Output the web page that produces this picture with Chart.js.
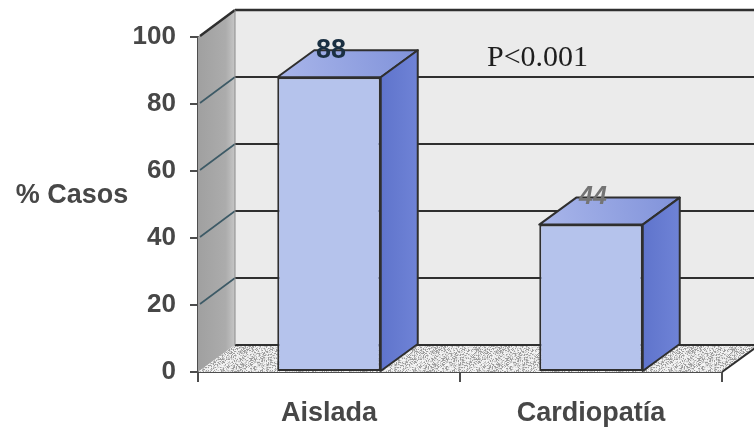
<!DOCTYPE html>
<html lang="es">
<head>
<meta charset="utf-8">
<title>% Casos</title>
<script src="https://cdn.jsdelivr.net/npm/chart.js@4.4.1/dist/chart.umd.min.js"></script>
<style>
  html, body { margin: 0; padding: 0; background: #ffffff; }
  canvas { display: block; }
</style>
</head>
<body>
<canvas id="chart" width="754" height="429"></canvas>
<script>
// ---- data ----
const categories = ['Aislada', 'Cardiopatía'];
const casesPct = [88, 44];
const yTicks = [0, 20, 40, 60, 80, 100];
const yAxisTitle = '% Casos';
const significance = 'P<0.001';

// ---- styles ----
const DEPTH_X = 37;          // 3D depth offset, horizontal
const DEPTH_Y = -27;         // 3D depth offset, vertical
const AXIS_COLOR = '#4d4d4d';
const TEXT_COLOR = '#474747';
const LINE_COLOR = '#2f2f2f';
const valueLabelStyles = [
  { color: '#1b3042', font: 'bold 27px "Liberation Sans", Arial, sans-serif' },
  { color: '#747474', font: 'italic bold 25px "Liberation Sans", Arial, sans-serif' }
];

// speckled texture used on the floor
function makeSpecklePattern(ctx) {
  const size = 64;
  const c = document.createElement('canvas');
  c.width = size; c.height = size;
  const g = c.getContext('2d');
  const img = g.createImageData(size, size);
  for (let y = 0; y < size; y++) {
    for (let x = 0; x < size; x++) {
      let h = (x * 374761393 + y * 668265263) | 0;
      h = (h ^ (h >>> 13)) * 1274126177 | 0;
      h = (h ^ (h >>> 16)) & 255;
      let v;
      if (h < 60) v = 105;
      else if (h < 110) v = 170;
      else if (h < 175) v = 220;
      else v = 248;
      const i = (y * size + x) * 4;
      img.data[i] = v; img.data[i + 1] = v; img.data[i + 2] = v; img.data[i + 3] = 255;
    }
  }
  g.putImageData(img, 0, 0);
  return ctx.createPattern(c, 'repeat');
}

function poly(ctx, pts) {
  ctx.beginPath();
  ctx.moveTo(pts[0][0], pts[0][1]);
  for (let i = 1; i < pts.length; i++) ctx.lineTo(pts[i][0], pts[i][1]);
  ctx.closePath();
}

// walls, floor and gridlines behind the bars
const chartWalls = {
  id: 'chartWalls',
  beforeDatasetsDraw(chart) {
    const { ctx, chartArea: a, scales } = chart;
    const ys = scales.y;
    const L = a.left, R = a.right;
    const y0 = ys.getPixelForValue(0);
    const yTop = ys.getPixelForValue(100);
    ctx.save();

    // back wall
    ctx.fillStyle = '#ebebeb';
    ctx.fillRect(L + DEPTH_X, yTop + DEPTH_Y, R - L + 10, y0 - yTop);

    // side wall
    const grad = ctx.createLinearGradient(L, 0, L + DEPTH_X, 0);
    grad.addColorStop(0, '#a0a0a0');
    grad.addColorStop(0.75, '#acacac');
    grad.addColorStop(1, '#c6c6c6');
    ctx.fillStyle = grad;
    poly(ctx, [[L, y0], [L, yTop], [L + DEPTH_X, yTop + DEPTH_Y], [L + DEPTH_X, y0 + DEPTH_Y]]);
    ctx.fill();

    // floor
    ctx.fillStyle = makeSpecklePattern(ctx);
    poly(ctx, [[L, y0], [R, y0], [R + DEPTH_X, y0 + DEPTH_Y], [L + DEPTH_X, y0 + DEPTH_Y]]);
    ctx.fill();
    ctx.fillStyle = 'rgba(238,238,238,0.4)';
    ctx.fill();

    // gridlines on back and side walls
    ctx.strokeStyle = LINE_COLOR;
    ctx.lineCap = 'butt';
    yTicks.forEach(v => {
      const y = ys.getPixelForValue(v);
      ctx.lineWidth = v === 100 ? 2.5 : 2;
      ctx.beginPath();
      ctx.moveTo(L + DEPTH_X, y + DEPTH_Y);
      ctx.lineTo(R + DEPTH_X + 10, y + DEPTH_Y);
      ctx.stroke();
      if (v > 0) {
        ctx.strokeStyle = v === 100 ? LINE_COLOR : '#3d5a66';
        ctx.lineWidth = v === 100 ? 2.5 : 1.6;
        ctx.beginPath();
        ctx.moveTo(L + 2, y - 1);
        ctx.lineTo(L + DEPTH_X, y + DEPTH_Y);
        ctx.stroke();
        ctx.strokeStyle = LINE_COLOR;
      }
    });
    // floor front-right edge
    ctx.lineWidth = 2;
    ctx.beginPath();
    ctx.moveTo(R, y0);
    ctx.lineTo(R + DEPTH_X, y0 + DEPTH_Y);
    ctx.stroke();
    // back corner edge
    ctx.beginPath();
    ctx.moveTo(L + DEPTH_X, yTop + DEPTH_Y);
    ctx.lineTo(L + DEPTH_X, y0 + DEPTH_Y);
    ctx.lineWidth = 1;
    ctx.strokeStyle = '#8a8a8a';
    ctx.stroke();
    ctx.restore();
  },

  // top and side faces of each bar, value labels
  afterDatasetsDraw(chart) {
    const { ctx } = chart;
    const meta = chart.getDatasetMeta(0);
    ctx.save();
    meta.data.forEach((bar, i) => {
      const { x, y, base, width } = bar.getProps(['x', 'y', 'base', 'width'], true);
      const x0 = x - width / 2, x1 = x + width / 2;

      // top face
      const tg = ctx.createLinearGradient(x0, y, x1 + DEPTH_X, y + DEPTH_Y);
      tg.addColorStop(0, '#a9b6ea');
      tg.addColorStop(1, '#8092da');
      ctx.fillStyle = tg;
      poly(ctx, [[x0, y], [x1, y], [x1 + DEPTH_X, y + DEPTH_Y], [x0 + DEPTH_X, y + DEPTH_Y]]);
      ctx.fill();
      ctx.strokeStyle = LINE_COLOR;
      ctx.lineWidth = 2;
      ctx.lineJoin = 'round';
      ctx.stroke();

      // side face
      const sg = ctx.createLinearGradient(x1, 0, x1 + DEPTH_X, 0);
      sg.addColorStop(0, '#5f74cc');
      sg.addColorStop(1, '#6f83d6');
      ctx.fillStyle = sg;
      poly(ctx, [[x1, y], [x1 + DEPTH_X, y + DEPTH_Y], [x1 + DEPTH_X, base + DEPTH_Y], [x1, base]]);
      ctx.fill();
      ctx.stroke();

      // value label on the top face
      const st = valueLabelStyles[i];
      ctx.fillStyle = st.color;
      ctx.font = st.font;
      ctx.textAlign = 'center';
      ctx.textBaseline = 'middle';
      ctx.fillText(String(casesPct[i]), x + 2, y + DEPTH_Y);
    });
    ctx.restore();
  },

  afterDraw(chart) {
    const { ctx, chartArea: a } = chart;
    ctx.save();
    ctx.fillStyle = TEXT_COLOR;
    ctx.font = 'bold 27px "Liberation Sans", Arial, sans-serif';
    ctx.textAlign = 'center';
    ctx.textBaseline = 'middle';
    ctx.fillText(yAxisTitle, 72, (a.top + a.bottom) / 2 - 9);

    ctx.fillStyle = '#1e1e1e';
    ctx.font = '30px "Liberation Serif", "Times New Roman", serif';
    ctx.textAlign = 'left';
    ctx.textBaseline = 'alphabetic';
    ctx.fillText(significance, 487, 66);
    ctx.restore();
  }
};

new Chart(document.getElementById('chart'), {
  type: 'bar',
  data: {
    labels: categories,
    datasets: [{
      data: casesPct,
      backgroundColor: '#b5c3ec',
      borderColor: LINE_COLOR,
      borderWidth: 2,
      borderSkipped: false,
      barPercentage: 0.79,
      categoryPercentage: 0.5
    }]
  },
  plugins: [chartWalls],
  options: {
    responsive: false,
    devicePixelRatio: 1,
    animation: false,
    events: [],
    layout: { padding: { left: 0, right: 32, top: 37, bottom: 0 } },
    plugins: { legend: { display: false }, tooltip: { enabled: false } },
    scales: {
      y: {
        min: 0,
        max: 100,
        afterFit(scale) { scale.width = 198; },
        afterBuildTicks(scale) { scale.ticks = yTicks.map(v => ({ value: v })); },
        ticks: {
          color: TEXT_COLOR,
          padding: 14,
          font: { family: '"Liberation Sans", Arial, sans-serif', size: 26, weight: 'bold' }
        },
        grid: { drawOnChartArea: false, tickLength: 8, color: AXIS_COLOR, lineWidth: 2 },
        border: { display: true, color: AXIS_COLOR, width: 2 }
      },
      x: {
        afterFit(scale) { scale.height = 57; },
        ticks: {
          color: TEXT_COLOR,
          padding: 15,
          font: { family: '"Liberation Sans", Arial, sans-serif', size: 27, weight: 'bold' }
        },
        grid: { offset: true, drawOnChartArea: false, tickLength: 10, color: AXIS_COLOR, lineWidth: 2 },
        border: { display: true, color: AXIS_COLOR, width: 2 }
      }
    }
  }
});
</script>
</body>
</html>
